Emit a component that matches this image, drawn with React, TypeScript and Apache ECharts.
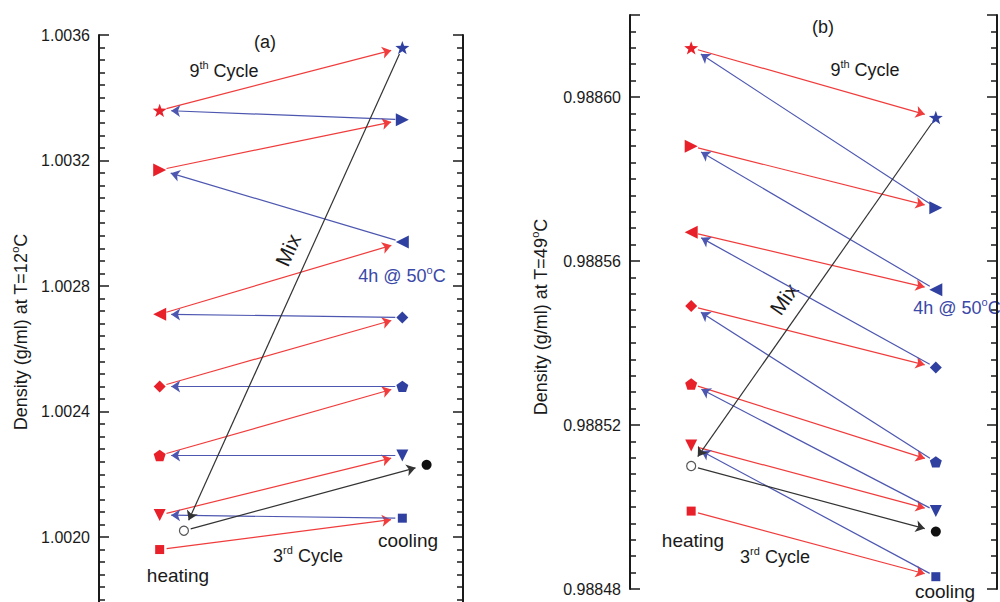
import React, { useEffect, useRef } from 'react';
import * as echarts from 'echarts';

// ---------- data ----------
const cycles = ['3rd', '4th', '5th', '6th', '7th', '8th', '9th'];
const heatingX = 1;
const coolingX = 5;

// panel (a): density at T=12 C
const aHeating = [1.00196, 1.00207, 1.00226, 1.00248, 1.00271, 1.00317, 1.00336];
const aCooling = [1.00206, 1.00226, 1.00248, 1.0027, 1.00294, 1.00333, 1.00356];
const aMixX = [1.4, 5.4];
const aMixY = [1.00202, 1.00223];

// panel (b): density at T=49 C
const bHeating = [0.988499, 0.988515, 0.98853, 0.988549, 0.988567, 0.988588, 0.988612];
const bCooling = [0.988483, 0.988499, 0.988511, 0.988534, 0.988553, 0.988573, 0.988595];
const bMixX = [1, 5];
const bMixY = [0.98851, 0.988494];

const aAxis = { min: 1.0016, max: 1.0036, interval: 0.0004, digits: 4 };
const bAxis = { min: 0.98848, max: 0.98862, interval: 0.00004, digits: 5 };

// ---------- styles ----------
const FONT = '"Liberation Sans", Arial, Helvetica, sans-serif';
const RED = '#e8202a';
const BLUE = '#2f40a0';
const RED_LINE = '#f03c3c';
const BLUE_LINE = '#4d57b0';
const BLACK_LINE = '#333333';
const AXIS = '#1a1a1a';
const TEXT_BLUE = '#3a48a8';

const STAR = 'path://M0,-10L2.35,-3.24L9.51,-3.09L3.8,1.24L5.88,8.09L0,4L-5.88,8.09L-3.8,1.24L-9.51,-3.09L-2.35,-3.24Z';
const PENTAGON = 'path://M0,-10L9.51,-3.09L5.88,8.09L-5.88,8.09L-9.51,-3.09Z';
const cycleSymbol = ['rect', 'triangle', PENTAGON, 'diamond', 'triangle', 'triangle', STAR];
const cycleRotate = [0, 180, 0, 0, 90, -90, 0];
const cycleSize = [9, 12, 12, 12, 13, 13, 14];

function pointSeries(name: string, x: number, ys: number[], color: string, xAxisIndex: number, yAxisIndex: number) {
  return {
    type: 'scatter',
    name,
    xAxisIndex,
    yAxisIndex,
    z: 5,
    silent: true,
    symbolKeepAspect: true,
    itemStyle: { color, opacity: 1 },
    data: ys.map((y, i) => ({
      name: cycles[i],
      value: [x, y],
      symbol: cycleSymbol[i],
      symbolRotate: cycleRotate[i],
      symbolSize: cycleSize[i],
    })),
  };
}

function mixSeries(xs: number[], ys: number[], xAxisIndex: number, yAxisIndex: number) {
  return {
    type: 'scatter',
    name: 'Mix',
    xAxisIndex,
    yAxisIndex,
    z: 5,
    silent: true,
    data: [
      { value: [xs[0], ys[0]], symbol: 'circle', symbolSize: 9, itemStyle: { color: '#ffffff', borderColor: '#555555', borderWidth: 1.2, opacity: 1 } },
      { value: [xs[1], ys[1]], symbol: 'circle', symbolSize: 10, itemStyle: { color: '#111111', opacity: 1 } },
    ],
  };
}

function yAxis(gridIndex: number, ax: any, position: string, showLabels: boolean) {
  return {
    gridIndex,
    type: 'value',
    position,
    min: ax.min,
    max: ax.max,
    interval: ax.interval,
    axisLine: { show: true, onZero: false, lineStyle: { color: AXIS, width: 2 } },
    axisTick: { show: true, inside: true, length: 10, lineStyle: { color: AXIS, width: 1.5 } },
    minorTick: { show: true, splitNumber: 10, length: 6, lineStyle: { color: AXIS, width: 1.5 } },
    splitLine: { show: false },
    minorSplitLine: { show: false },
    axisLabel: {
      show: showLabels,
      color: AXIS,
      fontSize: 16,
      fontFamily: FONT,
      margin: 9,
      showMinLabel: gridIndex === 1,
      showMaxLabel: gridIndex === 0,
      formatter: (v: number) => v.toFixed(ax.digits),
    },
  };
}

function arrowsFor(heat: number[], cool: number[], mixX: number[], mixY: number[]) {
  const segs: { from: number[]; to: number[]; color: string }[] = [];
  for (let i = 0; i < heat.length; i++) segs.push({ from: [heatingX, heat[i]], to: [coolingX, cool[i]], color: RED_LINE });
  for (let i = 0; i < heat.length - 1; i++) segs.push({ from: [coolingX, cool[i]], to: [heatingX, heat[i + 1]], color: BLUE_LINE });
  segs.push({ from: [coolingX, cool[cool.length - 1]], to: [mixX[0], mixY[0]], color: BLACK_LINE });
  segs.push({ from: [mixX[0], mixY[0]], to: [mixX[1], mixY[1]], color: BLACK_LINE });
  return segs;
}

// ---------- text with superscripts ----------
let measureCtx: CanvasRenderingContext2D | null = null;
function measure(text: string, size: number) {
  if (!measureCtx) measureCtx = document.createElement('canvas').getContext('2d');
  if (!measureCtx) return text.length * size * 0.55;
  measureCtx.font = `${size}px "Liberation Sans", Arial, sans-serif`;
  return measureCtx.measureText(text).width;
}

// "9^th Cycle" notation: parts after '^' up to '|' are superscript, e.g. '9^th| Cycle'
function txt(text: string, x: number, y: number, opts: any = {}) {
  const fill = opts.fill || '#1a1a1a';
  const size = opts.fontSize || 18;
  const supSize = Math.round(size * 0.6);
  const parts: { t: string; sup: boolean }[] = [];
  const re = /\^([^|]*)\|/g;
  let last = 0;
  let m: RegExpExecArray | null;
  while ((m = re.exec(text))) {
    if (m.index > last) parts.push({ t: text.slice(last, m.index), sup: false });
    parts.push({ t: m[1], sup: true });
    last = m.index + m[0].length;
  }
  if (last < text.length) parts.push({ t: text.slice(last), sup: false });
  const widths = parts.map((p) => measure(p.t, p.sup ? supSize : size));
  const total = widths.reduce((s, w) => s + w, 0);
  let cx = -total / 2;
  const children = parts.map((p, i) => {
    const el = {
      type: 'text',
      x: cx,
      y: p.sup ? -size * 0.36 : 0,
      silent: true,
      style: {
        text: p.t,
        fill,
        fontSize: p.sup ? supSize : size,
        fontFamily: FONT,
        align: 'left',
        verticalAlign: 'middle',
      },
    };
    cx += widths[i];
    return el;
  });
  return { type: 'group', x, y, rotation: opts.rotation || 0, silent: true, z: 10, children };
}

export default function App() {
  const ref = useRef<HTMLDivElement>(null);
  useEffect(() => {
    if (!ref.current) return;
    const chart = echarts.init(ref.current, undefined, { renderer: 'svg' });
    const baseSeries: any[] = [
      pointSeries('heating', heatingX, aHeating, RED, 0, 0),
      pointSeries('cooling', coolingX, aCooling, BLUE, 0, 0),
      mixSeries(aMixX, aMixY, 0, 0),
      pointSeries('heating', heatingX, bHeating, RED, 1, 2),
      pointSeries('cooling', coolingX, bCooling, BLUE, 1, 2),
      mixSeries(bMixX, bMixY, 1, 2),
    ];
    chart.setOption({
      animation: false,
      backgroundColor: '#ffffff',
      grid: [
        { left: 99, top: 35, width: 364, height: 627.5, outerBoundsMode: 'none', containLabel: false },
        { left: 630, top: 15, width: 367, height: 574, outerBoundsMode: 'none', containLabel: false },
      ],
      xAxis: [
        { gridIndex: 0, type: 'value', min: 0, max: 6, show: false },
        { gridIndex: 1, type: 'value', min: 0, max: 6, show: false },
      ],
      yAxis: [
        yAxis(0, aAxis, 'left', true),
        yAxis(0, aAxis, 'right', false),
        yAxis(1, bAxis, 'left', true),
        yAxis(1, bAxis, 'right', false),
      ],
      series: baseSeries,
    });

    const GAP_START = 7;
    const GAP_END = 7;
    const ARROW = 9;
    const buildLines = (panel: number, segs: any[]) => {
      const finder = { seriesIndex: panel * 3 };
      const data = segs.map((s) => {
        const a = chart.convertToPixel(finder, s.from) as number[];
        const b = chart.convertToPixel(finder, s.to) as number[];
        const dx = b[0] - a[0];
        const dy = b[1] - a[1];
        const len = Math.sqrt(dx * dx + dy * dy);
        const ux = dx / len;
        const uy = dy / len;
        const pa = [a[0] + ux * GAP_START, a[1] + uy * GAP_START];
        const endGap = GAP_END + ARROW / 2;
        const pb = [b[0] - ux * endGap, b[1] - uy * endGap];
        return {
          coords: [chart.convertFromPixel(finder, pa), chart.convertFromPixel(finder, pb)],
          lineStyle: { color: s.color },
        };
      });
      return {
        type: 'lines',
        coordinateSystem: 'cartesian2d',
        xAxisIndex: panel,
        yAxisIndex: panel * 2,
        z: 3,
        silent: true,
        symbol: ['none', 'arrow'],
        symbolSize: ARROW,
        lineStyle: { width: 1.2, opacity: 1 },
        data,
      };
    };

    const mixAngle = (panel: number, fromX: number, fromY: number, toX: number, toY: number) => {
      const finder = { seriesIndex: panel * 3 };
      const a = chart.convertToPixel(finder, [fromX, fromY]) as number[];
      const b = chart.convertToPixel(finder, [toX, toY]) as number[];
      return Math.atan2(a[1] - b[1], b[0] - a[0]);
    };
    const angA = mixAngle(0, aMixX[0], aMixY[0], coolingX, aCooling[6]);
    const angB = mixAngle(1, bMixX[0], bMixY[0], coolingX, bCooling[6]);

    chart.setOption({
      series: [
        ...baseSeries,
        buildLines(0, arrowsFor(aHeating, aCooling, aMixX, aMixY)),
        buildLines(1, arrowsFor(bHeating, bCooling, bMixX, bMixY)),
      ],
      graphic: [
        txt('Density (g/ml) at T=12^o|C', 21, 332, { rotation: Math.PI / 2 }),
        txt('(a)', 265, 42),
        txt('9^th| Cycle', 224, 71),
        txt('Mix', 288, 250, { rotation: angA, fontSize: 21 }),
        txt('4h @ 50^o|C', 402, 276, { fill: TEXT_BLUE }),
        txt('heating', 178, 575, { fontSize: 19 }),
        txt('3^rd| Cycle', 308, 556),
        txt('cooling', 408, 540, { fontSize: 19 }),

        txt('Density (g/ml) at T=49^o|C', 541, 317, { rotation: Math.PI / 2 }),
        txt('(b)', 823, 27),
        txt('9^th| Cycle', 865, 70),
        txt('Mix', 784, 299, { rotation: angB, fontSize: 21 }),
        txt('4h @ 50^o|C', 957, 308, { fill: TEXT_BLUE }),
        txt('heating', 693, 540, { fontSize: 19 }),
        txt('3^rd| Cycle', 775, 557),
        txt('cooling', 945, 591, { fontSize: 19 }),
      ],
    });

    return () => chart.dispose();
  }, []);
  return <div ref={ref} style={{ position: 'fixed', left: 0, top: 0, width: 1000, height: 602, background: '#fff' }} />;
}
